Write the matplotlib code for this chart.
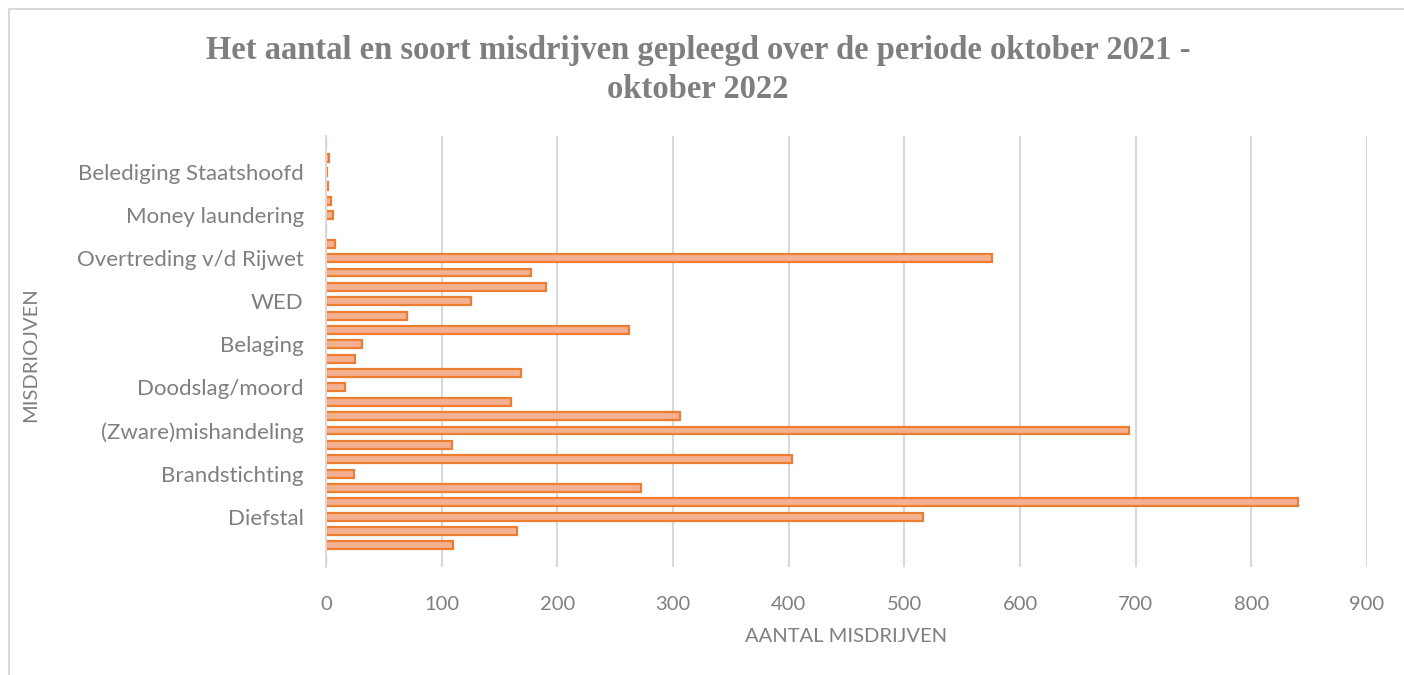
import numpy as np
import matplotlib.pyplot as plt
from matplotlib.patches import Rectangle

# misdrijven per soort, van onder naar boven zoals in de grafiek
soorten = ['', '', '', 'Diefstal', '', '', 'Brandstichting', '', '',
           '(Zware)mishandeling', '', '', 'Doodslag/moord', '', '',
           'Belaging', '', '', 'WED', '', '', 'Overtreding v/d Rijwet', '', '',
           'Money laundering', '', '', 'Belediging Staatshoofd', '', '']
aantallen = [0, 110, 165, 516, 840, 272, 24, 403, 109, 694, 306, 160, 16, 169, 25,
             31, 262, 70, 125, 190, 177, 576, 8, 0, 6, 4, 2, 1, 3, 0]
xticks = [0, 100, 200, 300, 400, 500, 600, 700, 800, 900]

titel = 'Het aantal en soort misdrijven gepleegd over de periode oktober 2021 -\noktober 2022'
grijs = '#7f7f7f'
lijn = '#d9d9d9'

plt.rcParams['font.family'] = ['Lato', 'DejaVu Sans']

fig = plt.figure(figsize=(14.04, 6.75), dpi=100)
ax = fig.add_axes([326/1404, 1-567/675, (1367-326)/1404, (567-136)/675])

y = np.arange(len(aantallen))
ax.barh(y, aantallen, height=0.55, color='#f4b092', edgecolor='#ed7d31',
        linewidth=1.6, zorder=3)

ax.set_xlim(0, 900)
ax.set_ylim(-0.5, len(aantallen)-0.5)
ax.set_xticks(xticks)
ax.set_yticks(y)
ax.set_yticklabels(soorten)
ax.tick_params(axis='x', length=0, pad=21, labelsize=14.5, labelcolor=grijs)
ax.tick_params(axis='y', length=0, pad=16, labelsize=16, labelcolor=grijs)

ax.grid(axis='x', color=lijn, linewidth=1.5, zorder=0)
for s in ['top', 'right', 'bottom']:
    ax.spines[s].set_visible(False)
ax.spines['left'].set_color(lijn)
ax.spines['left'].set_linewidth(1.5)
ax.spines['left'].set_zorder(4)

fig.text(846/1404, 1-636/675, 'AANTAL MISDRIJVEN', ha='center', va='center',
         fontsize=14.5, color=grijs)
fig.text(31/1404, 1-355/675, 'MISDRIOJVEN', ha='center', va='center',
         rotation=90, fontsize=14.5, color=grijs)
fig.text(698/1404, 1-70/675, titel, ha='center', va='center',
         fontsize=23.5, fontweight='bold', color=grijs,
         family=['Liberation Serif', 'DejaVu Serif'], linespacing=1.35)

# kader rond de grafiek
fig.patches.append(Rectangle((9/1404, -0.1), 1.1, 1-9/675+0.1,
                             transform=fig.transFigure, fill=False,
                             edgecolor=lijn, linewidth=1.5))

fig.savefig('out.png', dpi=100, facecolor='w')
